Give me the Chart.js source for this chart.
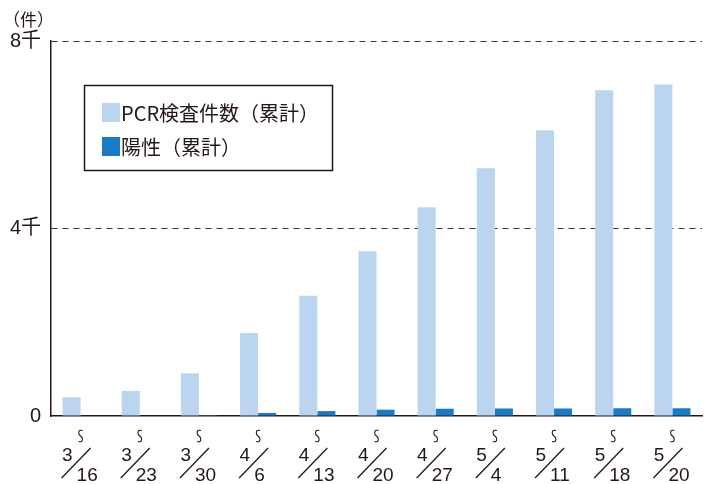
<!DOCTYPE html>
<html>
<head>
<meta charset="utf-8">
<script src="https://cdn.jsdelivr.net/npm/chart.js@4/dist/chart.umd.min.js"></script>
<style>
  body { margin: 0; background: #fff; }
  #chart { display: block; }
</style>
</head>
<body>
<canvas id="chart" width="717" height="484"></canvas>
<script>
const labels = ['3/16', '3/23', '3/30', '4/6', '4/13', '4/20', '4/27', '5/4', '5/11', '5/18', '5/20'];
const pcrTotals = [400, 535, 910, 1770, 2565, 3515, 4455, 5285, 6095, 6950, 7070];
const positiveTotals = [0, 0, 20, 65, 105, 135, 155, 160, 160, 165, 165];
const yTickText = { 0: '0', 4000: '4千', 8000: '8千' };

const INK = '#231815';
const LATIN = '"Liberation Sans", "Noto Sans CJK JP", sans-serif';
const CJK = '"Noto Sans CJK JP", "Liberation Sans", sans-serif';

// legend box + unit label + stacked date labels
const decorations = {
    id: 'decorations',
    afterDraw(chart) {
        const ctx = chart.ctx;
        const xScale = chart.scales.x;
        ctx.save();
        ctx.fillStyle = INK;
        ctx.strokeStyle = INK;

        // unit
        ctx.font = '17px ' + CJK;
        ctx.textAlign = 'left';
        ctx.textBaseline = 'middle';
        ctx.fillText('（件）', 3, 20);

        // legend
        ctx.lineWidth = 1.5;
        ctx.strokeRect(84.5, 85.5, 248, 85);
        ctx.font = '20px ' + CJK;
        chart.data.datasets.forEach((ds, i) => {
            const y = 103 + i * 34;
            ctx.fillStyle = ds.backgroundColor;
            ctx.fillRect(102, y, 18, 19);
            ctx.fillStyle = INK;
            ctx.textBaseline = 'middle';
            ctx.fillText(ds.label, 121, y + 10);
        });

        // x labels: wave mark, then numerator / slash / denominator
        labels.forEach((lab, i) => {
            const cx = xScale.getPixelForValue(i);
            const [num, den] = lab.split('/');

            ctx.lineWidth = 1.1;
            ctx.beginPath();
            ctx.moveTo(cx + 2, 430.5);
            ctx.bezierCurveTo(cx - 3, 429, cx - 2.5, 434.5, cx, 436);
            ctx.bezierCurveTo(cx + 2.5, 437.5, cx + 3, 443, cx - 2, 441.5);
            ctx.stroke();

            ctx.font = '19px ' + LATIN;
            ctx.textBaseline = 'alphabetic';
            ctx.textAlign = 'right';
            ctx.fillText(num, cx - 8, 461);
            ctx.textAlign = 'left';
            ctx.fillText(den, cx - 4, 481);

            ctx.lineWidth = 1.3;
            ctx.beginPath();
            ctx.moveTo(cx - 19, 478);
            ctx.lineTo(cx + 10, 448);
            ctx.stroke();
        });
        ctx.restore();
    }
};

new Chart(document.getElementById('chart'), {
    type: 'bar',
    data: {
        labels: labels,
        datasets: [
            {
                label: 'PCR検査件数（累計）',
                data: pcrTotals,
                backgroundColor: '#BBD5F0'
            },
            {
                label: '陽性（累計）',
                data: positiveTotals,
                backgroundColor: '#1A7BC4'
            }
        ]
    },
    options: {
        responsive: false,
        animation: false,
        layout: { padding: { top: 41, right: 15, left: 0, bottom: 0 } },
        datasets: {
            bar: { categoryPercentage: 0.61, barPercentage: 1.0 }
        },
        plugins: {
            legend: { display: false },
            tooltip: { enabled: false }
        },
        scales: {
            x: {
                grid: { display: false },
                border: { color: INK, width: 1.5 },
                ticks: { display: false },
                afterFit: scale => { scale.height = 68; }
            },
            y: {
                min: 0,
                max: 8000,
                ticks: {
                    stepSize: 4000,
                    color: INK,
                    padding: 10,
                    font: { size: 20, family: LATIN },
                    callback: v => yTickText[v]
                },
                grid: {
                    drawTicks: false,
                    color: c => c.tick && c.tick.value === 0 ? 'rgba(0,0,0,0)' : '#3d3535',
                    lineWidth: 1
                },
                border: { color: INK, width: 1.5, dash: [6, 5] },
                afterFit: scale => { scale.width = 51; }
            }
        }
    },
    plugins: [decorations]
});
</script>
</body>
</html>
